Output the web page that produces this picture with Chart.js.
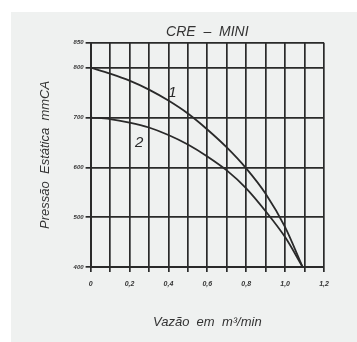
<!DOCTYPE html>
<html>
<head>
<meta charset="utf-8">
<script src="https://cdn.jsdelivr.net/npm/chart.js@4"></script>
<style>
	body { margin: 0; background: #fff; }
	#wrap { position: relative; width: 357px; height: 342px; }
	#paper { position: absolute; left: 11px; top: 12px; right: 0; bottom: 0; background: #eff1f0; }
	canvas { position: absolute; left: 0; top: 0; }
</style>
</head>
<body>
<div id="wrap">
	<div id="paper"></div>
	<canvas id="curves" width="357" height="342"></canvas>
</div>
<script>
// flow (m3/min) and static pressure (mmCA)
const vazao1 = [0, 0.1, 0.2, 0.3, 0.4, 0.5, 0.6, 0.7, 0.8, 0.9, 1.0, 1.09]
const pressao1 = [800, 788, 774, 756, 734, 708, 676, 640, 598, 547, 480, 400]
const vazao2 = [0, 0.1, 0.2, 0.3, 0.4, 0.5, 0.6, 0.7, 0.8, 0.9, 1.0, 1.09]
const pressao2 = [700, 697, 690, 680, 665, 646, 622, 594, 558, 512, 460, 400]
const yTicks = [400, 500, 600, 700, 800, 850]
const curveLabels = [
	{ text: '1', x: 0.42, y: 750 },
	{ text: '2', x: 0.25, y: 650 },
]

const ink = '#2a2a2a'

function toPoints(xs, ys) {
	return xs.map((x, i) => ({ x: x, y: ys[i] }))
}

// puts the "1" / "2" next to each curve
const curveNames = {
	id: 'curveNames',
	afterDatasetsDraw(chart) {
		const ctx = chart.ctx
		const xs = chart.scales.x
		const ys = chart.scales.y
		ctx.save()
		ctx.fillStyle = ink
		ctx.font = 'italic 15px "Liberation Sans", Arial, sans-serif'
		ctx.textAlign = 'center'
		ctx.textBaseline = 'middle'
		curveLabels.forEach(l => {
			ctx.fillText(l.text, xs.getPixelForValue(l.x), ys.getPixelForValue(l.y))
		})
		ctx.restore()
	},
}

new Chart(document.getElementById('curves'), {
	type: 'line',
	data: {
		datasets: [
			{
				label: '1',
				data: toPoints(vazao1, pressao1),
				borderColor: ink,
				borderWidth: 1.8,
				pointRadius: 0,
				cubicInterpolationMode: 'monotone',
			},
			{
				label: '2',
				data: toPoints(vazao2, pressao2),
				borderColor: ink,
				borderWidth: 1.8,
				pointRadius: 0,
				cubicInterpolationMode: 'monotone',
			},
		],
	},
	options: {
		responsive: false,
		animation: false,
		layout: {
			padding: { left: 38, right: 33, top: 24, bottom: 12 },
		},
		plugins: {
			legend: { display: false },
			tooltip: { enabled: false },
		},
		scales: {
			x: {
				type: 'linear',
				min: 0,
				max: 1.2,
				border: { color: ink, width: 2 },
				grid: { color: ink, lineWidth: 1.7, tickLength: 5 },
				ticks: {
					stepSize: 0.1,
					autoSkip: false,
					maxRotation: 0,
					color: '#333',
					font: { size: 7, style: 'italic', weight: 'bold' },
					padding: 8,
					callback: v => Math.round(v * 10) % 2 === 0 ? v.toFixed(1).replace('.', ',').replace(/^0,0$/, '0') : '',
				},
				title: {
					display: true,
					text: 'Vazão  em  m³/min',
					color: '#333',
					font: { size: 13, style: 'italic' },
					padding: { top: 18, bottom: 0 },
				},
			},
			top: {
				type: 'linear',
				position: 'top',
				min: 0,
				max: 1.2,
				grid: { display: false },
				border: { display: false },
				ticks: { display: false },
				title: {
					display: true,
					text: 'CRE  –  MINI',
					color: '#333',
					font: { size: 14, style: 'italic' },
					padding: { top: 0, bottom: -6 },
				},
			},
			y: {
				type: 'linear',
				min: 400,
				max: 850,
				afterBuildTicks: scale => {
					scale.ticks = yTicks.map(v => ({ value: v }))
				},
				border: { color: ink, width: 2 },
				grid: { color: ink, lineWidth: 1.7, tickLength: 5 },
				ticks: {
					color: '#333',
					font: { size: 6, style: 'italic', weight: 'bold' },
					padding: 2,
				},
				title: {
					display: true,
					text: 'Pressão  Estática  mmCA',
					color: '#333',
					font: { size: 13, style: 'italic' },
					padding: { top: 0, bottom: 18 },
				},
			},
		},
	},
	plugins: [curveNames],
})
</script>
</body>
</html>
